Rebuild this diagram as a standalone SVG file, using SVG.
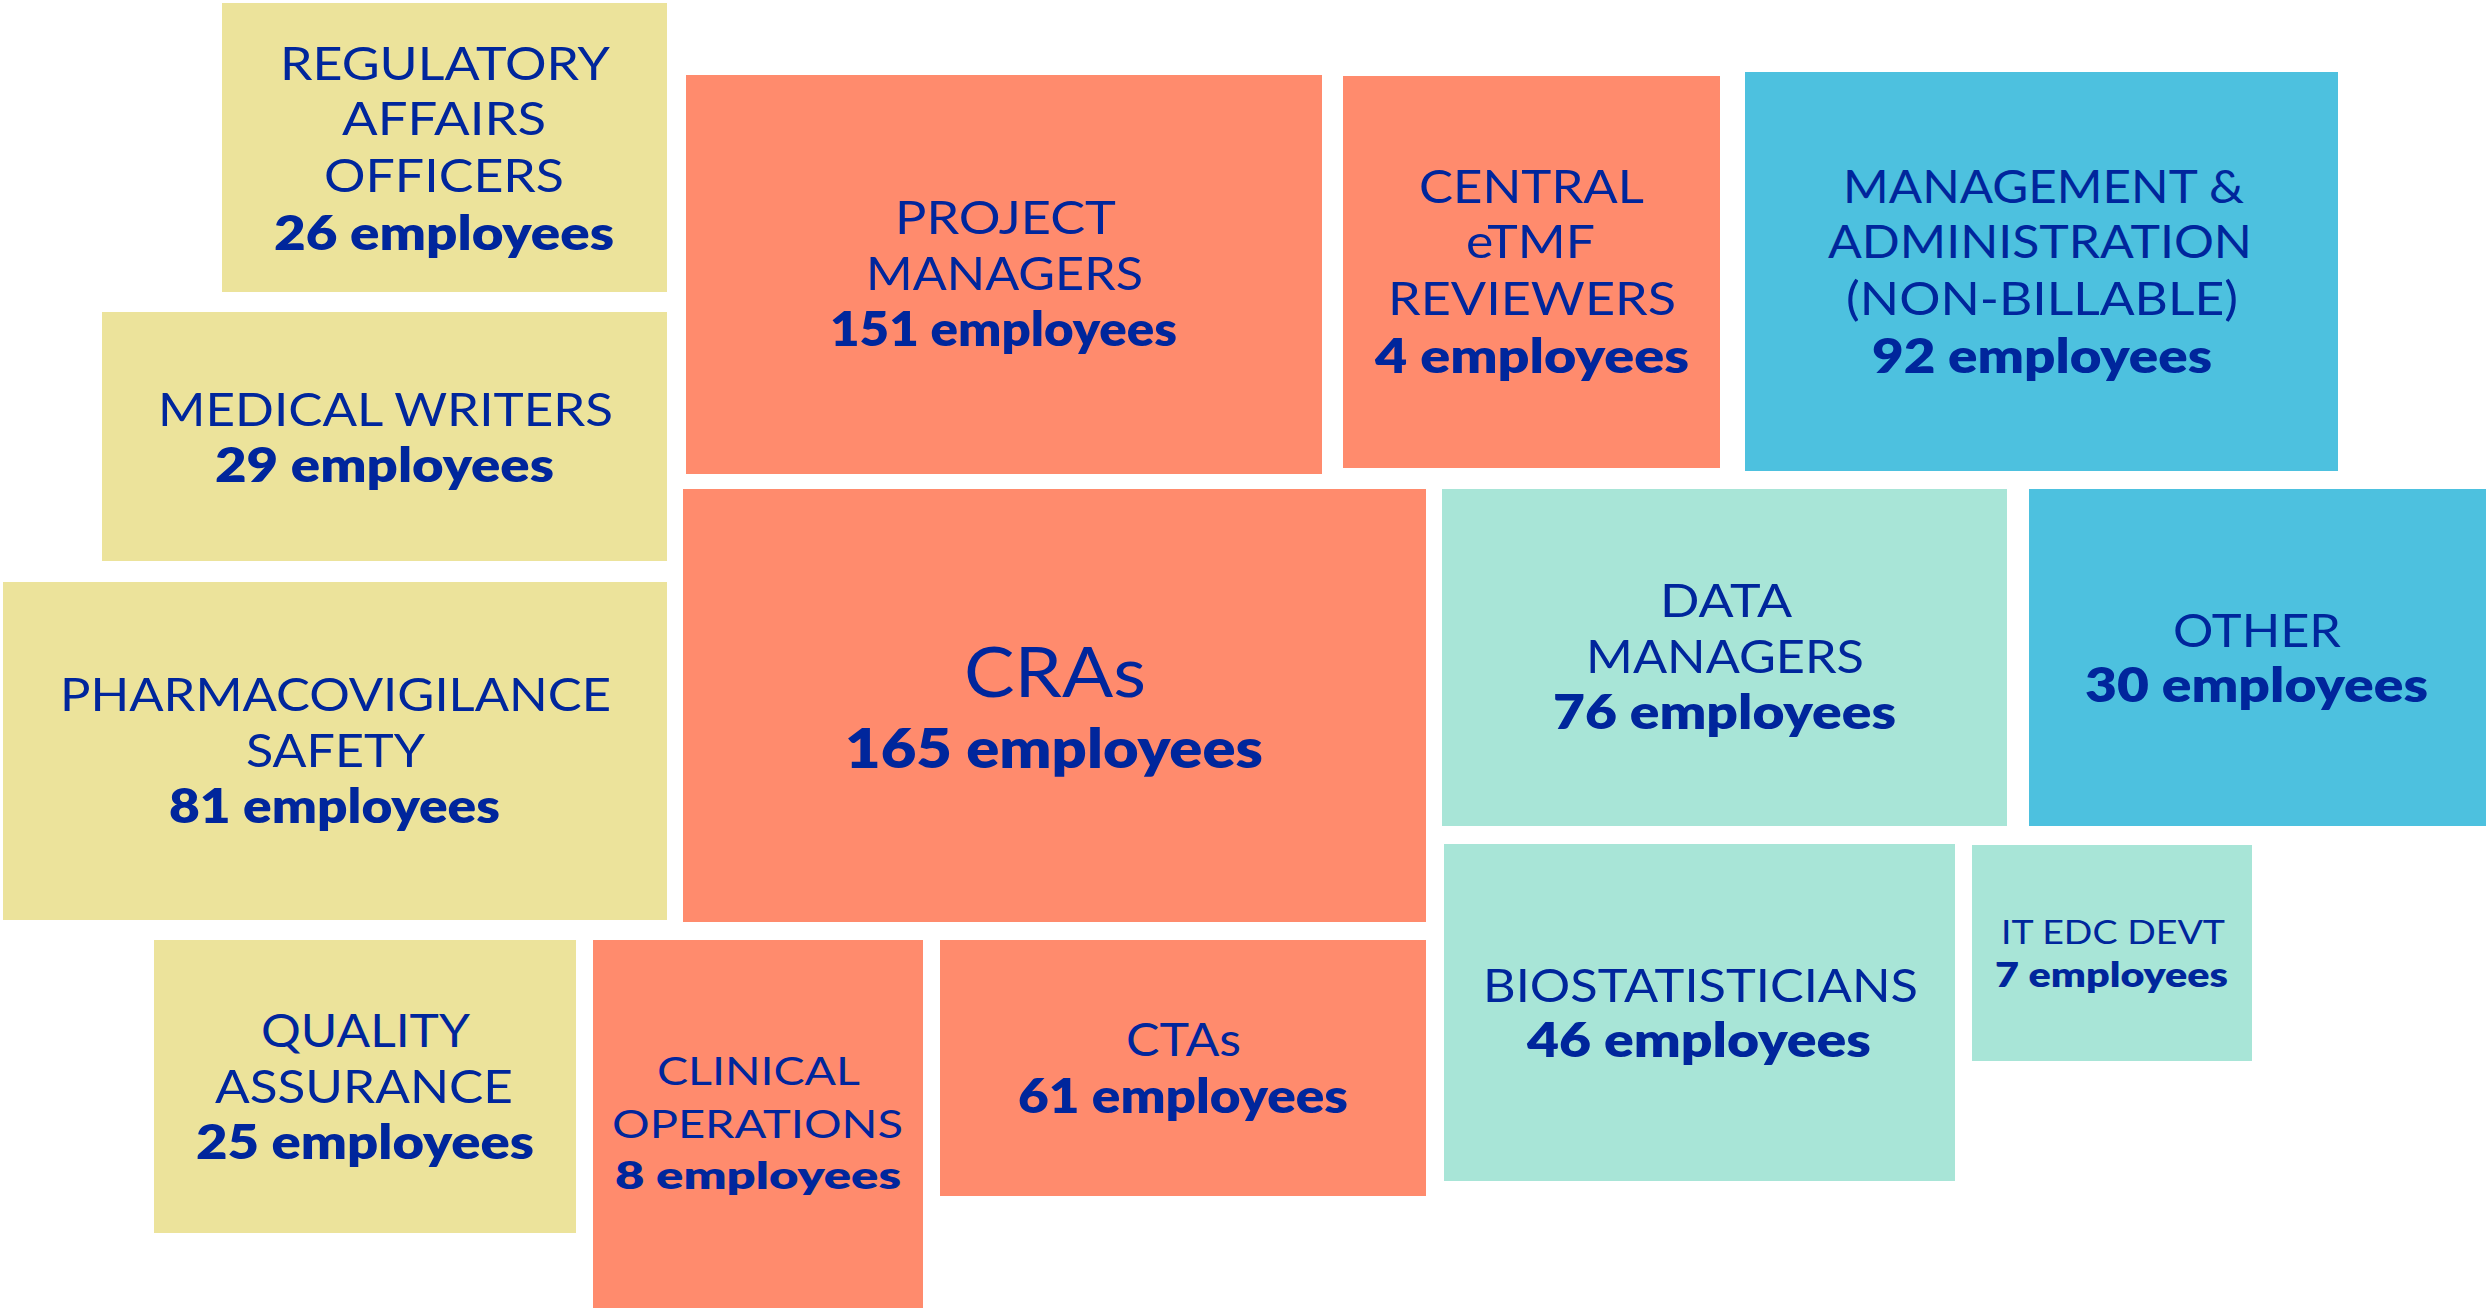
<svg xmlns="http://www.w3.org/2000/svg" width="2487" height="1308" viewBox="0 0 2487 1308">
<style>
.y{fill:#ECE39B}.o{fill:#FF8B6D}.m{fill:#A8E5D7}.b{fill:#4DC1DF}
text{font-family:Lato,"Open Sans","Liberation Sans",sans-serif;fill:#00269C}
.r{font-size:46px;font-weight:400}
.k{font-size:47px;font-weight:800}
.rs{font-size:39px;font-weight:400}
.ks{font-size:38px;font-weight:800}
.rx{font-size:33px;font-weight:400}
.kx{font-size:33px;font-weight:800}
.rl{font-size:70px;font-weight:400}
.kl{font-size:55px;font-weight:800}
</style>
<rect width="2487" height="1308" fill="#FFFFFF"/>
<g id="connectors"/>
<g id="regulatory">
<rect class="y" x="222" y="3" width="445" height="289"/>
<text class="r" x="280" y="80" textLength="330" lengthAdjust="spacingAndGlyphs">REGULATORY</text>
<text class="r" x="342" y="135" textLength="204" lengthAdjust="spacingAndGlyphs">AFFAIRS</text>
<text class="r" x="324" y="192" textLength="240" lengthAdjust="spacingAndGlyphs">OFFICERS</text>
<text class="k" x="274" y="250" textLength="340" lengthAdjust="spacingAndGlyphs">26 employees</text>
</g>
<g id="medical-writers">
<rect class="y" x="102" y="312" width="565" height="249"/>
<text class="r" x="158" y="426" textLength="455" lengthAdjust="spacingAndGlyphs">MEDICAL WRITERS</text>
<text class="k" x="215" y="482" textLength="339" lengthAdjust="spacingAndGlyphs">29 employees</text>
</g>
<g id="pharmacovigilance">
<rect class="y" x="3" y="582" width="664" height="338"/>
<text class="r" x="60" y="711" textLength="551" lengthAdjust="spacingAndGlyphs">PHARMACOVIGILANCE</text>
<text class="r" x="246" y="767" textLength="179" lengthAdjust="spacingAndGlyphs">SAFETY</text>
<text class="k" x="169" y="823" textLength="331" lengthAdjust="spacingAndGlyphs">81 employees</text>
</g>
<g id="quality-assurance">
<rect class="y" x="154" y="940" width="422" height="293"/>
<text class="r" x="261" y="1047" textLength="209" lengthAdjust="spacingAndGlyphs">QUALITY</text>
<text class="r" x="215" y="1103" textLength="298" lengthAdjust="spacingAndGlyphs">ASSURANCE</text>
<text class="k" x="196" y="1159" textLength="338" lengthAdjust="spacingAndGlyphs">25 employees</text>
</g>
<g id="clinical-operations">
<rect class="o" x="593" y="940" width="330" height="368"/>
<text class="rs" x="657" y="1085" textLength="203" lengthAdjust="spacingAndGlyphs">CLINICAL</text>
<text class="rs" x="612" y="1138" textLength="291" lengthAdjust="spacingAndGlyphs">OPERATIONS</text>
<text class="ks" x="615" y="1189" textLength="286" lengthAdjust="spacingAndGlyphs">8 employees</text>
</g>
<g id="ctas">
<rect class="o" x="940" y="940" width="486" height="256"/>
<text class="r" x="1126" y="1056" textLength="115" lengthAdjust="spacingAndGlyphs">CTAs</text>
<text class="k" x="1018" y="1113" textLength="330" lengthAdjust="spacingAndGlyphs">61 employees</text>
</g>
<g id="cras">
<rect class="o" x="683" y="489" width="743" height="433"/>
<text class="rl" x="964" y="697" textLength="182" lengthAdjust="spacingAndGlyphs">CRAs</text>
<text class="kl" x="845" y="768" textLength="418" lengthAdjust="spacingAndGlyphs">165 employees</text>
</g>
<g id="project-managers">
<rect class="o" x="686" y="75" width="636" height="399"/>
<text class="r" x="895" y="234" textLength="221" lengthAdjust="spacingAndGlyphs">PROJECT</text>
<text class="r" x="866" y="290" textLength="277" lengthAdjust="spacingAndGlyphs">MANAGERS</text>
<text class="k" x="830" y="346" textLength="347" lengthAdjust="spacingAndGlyphs">151 employees</text>
</g>
<g id="central-etmf">
<rect class="o" x="1343" y="76" width="377" height="392"/>
<text class="r" x="1419" y="203" textLength="225" lengthAdjust="spacingAndGlyphs">CENTRAL</text>
<text class="r" x="1466" y="258" textLength="129" lengthAdjust="spacingAndGlyphs">eTMF</text>
<text class="r" x="1388" y="315" textLength="288" lengthAdjust="spacingAndGlyphs">REVIEWERS</text>
<text class="k" x="1375" y="373" textLength="314" lengthAdjust="spacingAndGlyphs">4 employees</text>
</g>
<g id="management">
<rect class="b" x="1745" y="72" width="593" height="399"/>
<text class="r" x="1843" y="203" textLength="401" lengthAdjust="spacingAndGlyphs">MANAGEMENT &amp;</text>
<text class="r" x="1828" y="258" textLength="424" lengthAdjust="spacingAndGlyphs">ADMINISTRATION</text>
<text class="r" x="1846" y="315" textLength="392" lengthAdjust="spacingAndGlyphs">(NON-BILLABLE)</text>
<text class="k" x="1872" y="373" textLength="340" lengthAdjust="spacingAndGlyphs">92 employees</text>
</g>
<g id="data-managers">
<rect class="m" x="1442" y="489" width="565" height="337"/>
<text class="r" x="1660" y="617" textLength="132" lengthAdjust="spacingAndGlyphs">DATA</text>
<text class="r" x="1586" y="673" textLength="278" lengthAdjust="spacingAndGlyphs">MANAGERS</text>
<text class="k" x="1553" y="729" textLength="343" lengthAdjust="spacingAndGlyphs">76 employees</text>
</g>
<g id="other">
<rect class="b" x="2029" y="489" width="457" height="337"/>
<text class="r" x="2173" y="647" textLength="168" lengthAdjust="spacingAndGlyphs">OTHER</text>
<text class="k" x="2085" y="702" textLength="343" lengthAdjust="spacingAndGlyphs">30 employees</text>
</g>
<g id="biostatisticians">
<rect class="m" x="1444" y="844" width="511" height="337"/>
<text class="r" x="1483" y="1002" textLength="435" lengthAdjust="spacingAndGlyphs">BIOSTATISTICIANS</text>
<text class="k" x="1527" y="1057" textLength="344" lengthAdjust="spacingAndGlyphs">46 employees</text>
</g>
<g id="it-edc-devt">
<rect class="m" x="1972" y="845" width="280" height="216"/>
<text class="rx" x="2001" y="944" textLength="224" lengthAdjust="spacingAndGlyphs">IT EDC DEVT</text>
<text class="kx" x="1995" y="987" textLength="233" lengthAdjust="spacingAndGlyphs">7 employees</text>
</g>
</svg>
